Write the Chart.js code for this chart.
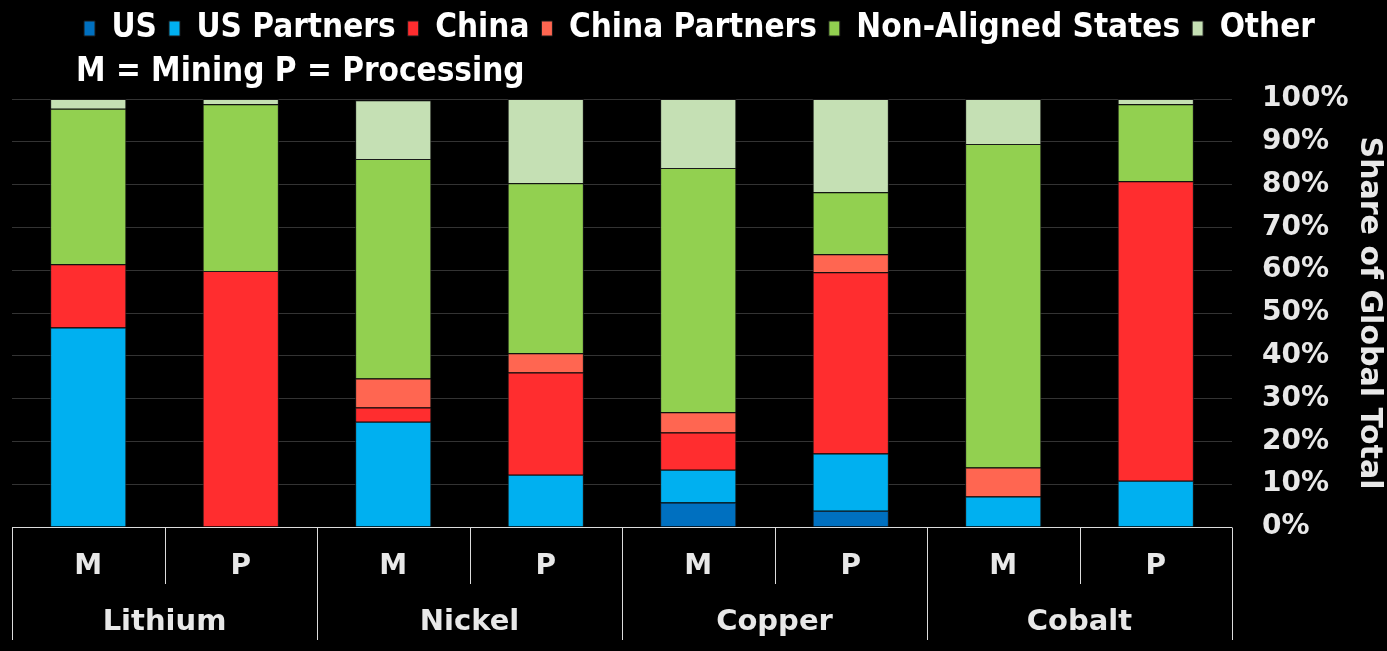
<!DOCTYPE html>
<html>
<head>
<meta charset="utf-8">
<script src="https://cdn.jsdelivr.net/npm/chart.js@4.4.1/dist/chart.umd.min.js"></script>
<style>
  html, body { margin: 0; padding: 0; background: #000; }
  #wrap { width: 1387px; height: 651px; position: relative; }
</style>
</head>
<body>
<div id="wrap"><canvas id="grafico"></canvas></div>
<script>
// categorias (M = mining, P = processing) e grupos
const categorias = ["M", "P", "M", "P", "M", "P", "M", "P"];
const grupos = ["Lithium", "Nickel", "Copper", "Cobalt"];
const yTicks = [0, 10, 20, 30, 40, 50, 60, 70, 80, 90, 100];

// participação (%) por bloco
const us = [null, null, null, null, 5.7, 3.8, null, null];
const usPartners = [46.6, null, 24.6, 12.2, 7.7, 13.4, 7.1, 10.8];
const china = [14.8, 59.8, 3.3, 23.9, 8.7, 42.3, null, 70.0];
const chinaPartners = [null, null, 6.8, 4.5, 4.7, 4.2, 6.8, null];
const naoAlinhados = [36.3, 39.0, 51.3, 39.7, 57.1, 14.5, 75.6, 18.0];
const outros = [2.3, 1.2, 13.7, 19.7, 16.1, 21.8, 10.5, 1.2];

const fonteCond = "'DejaVu Sans Condensed', 'DejaVu Sans', sans-serif";
const fonte = "'DejaVu Sans', sans-serif";
const corTexto = "#e8e8e8";

// caixa extra abaixo da legenda: "M = Mining P = Processing"
const notaBox = {
  position: "top", weight: 500, fullSize: true,
  options: {},
  left: 0, top: 0, right: 0, bottom: 0, width: 0, height: 0,
  isHorizontal() { return true; },
  update(maxWidth) { this.width = maxWidth; this.height = 44; },
  draw() {
    const ctx = this.chart.ctx;
    ctx.save();
    ctx.font = "bold 33px " + fonteCond;
    ctx.fillStyle = "#fff";
    ctx.textBaseline = "middle";
    ctx.textAlign = "left";
    ctx.fillText("M = Mining P = Processing", 76, this.top + 17);
    ctx.restore();
  }
};

// tabela do eixo x (linhas + nomes dos grupos)
const tabelaEixo = {
  id: "tabelaEixo",
  beforeInit(chart) {
    notaBox.chart = chart;
    Chart.layouts.addBox(chart, notaBox);
  },
  afterDraw(chart) {
    const ctx = chart.ctx;
    const x = chart.scales.x;
    const area = chart.chartArea;
    const passo = x.width / categorias.length;
    const topo = Math.round(area.bottom) + 0.5;
    ctx.save();
    ctx.strokeStyle = "#dcdcdc";
    ctx.lineWidth = 1;
    ctx.beginPath();
    ctx.moveTo(area.left, topo);
    ctx.lineTo(area.right, topo);
    for (let i = 0; i <= categorias.length; i++) {
      const px = Math.round(x.left + passo * i) + 0.5;
      ctx.moveTo(px, topo);
      ctx.lineTo(px, i % 2 === 0 ? 640 : 584);
    }
    ctx.stroke();

    ctx.font = "bold 29px " + fonte;
    ctx.fillStyle = corTexto;
    ctx.textAlign = "center";
    ctx.textBaseline = "middle";
    grupos.forEach((g, i) => {
      const cx = (x.getPixelForValue(i * 2) + x.getPixelForValue(i * 2 + 1)) / 2;
      ctx.fillText(g, cx, 622);
    });
    ctx.restore();
  }
};

function serie(label, data, cor) {
  return {
    label: label,
    data: data,
    backgroundColor: cor,
    borderColor: "#1a1a1a",
    borderWidth: 1,
    barPercentage: 0.5,
    categoryPercentage: 1
  };
}

new Chart(document.getElementById("grafico"), {
  type: "bar",
  data: {
    labels: categorias,
    datasets: [
      serie("US", us, "#0070c0"),
      serie("US Partners", usPartners, "#00b0f0"),
      serie("China", china, "#ff2d2f"),
      serie("China Partners", chinaPartners, "#ff6651"),
      serie("Non-Aligned States", naoAlinhados, "#92d050"),
      serie("Other", outros, "#c5e0b4")
    ]
  },
  options: {
    responsive: true,
    maintainAspectRatio: false,
    animation: false,
    layout: { padding: { left: 12, right: 0, top: 0, bottom: 69 } },
    plugins: {
      tooltip: { enabled: false },
      legend: {
        position: "top",
        labels: {
          color: "#fff",
          font: { family: fonteCond, size: 33, weight: "bold" },
          boxWidth: 11,
          boxHeight: 15,
          padding: 12
        }
      }
    },
    scales: {
      x: {
        stacked: true,
        grid: { display: false },
        border: { display: false },
        afterFit(axis) { axis.height = 55; },
        ticks: {
          color: corTexto,
          padding: 15,
          maxRotation: 0,
          font: { family: fonte, size: 28, weight: "bold" }
        }
      },
      y: {
        stacked: true,
        position: "right",
        min: 0,
        max: 100,
        afterBuildTicks(axis) { axis.ticks = yTicks.map(v => ({ value: v })); },
        afterFit(axis) { axis.width = 155; },
        grid: { color: "#333", lineWidth: 1, drawTicks: false },
        border: { display: false },
        ticks: {
          color: corTexto,
          padding: 30,
          font: { family: fonte, size: 28, weight: "bold" },
          callback: v => v + "%"
        },
        title: {
          display: true,
          text: "Share of Global Total",
          color: corTexto,
          padding: { top: 0, bottom: 0 },
          font: { family: fonte, size: 30, weight: "bold" }
        }
      }
    }
  },
  plugins: [tabelaEixo]
});
</script>
</body>
</html>
